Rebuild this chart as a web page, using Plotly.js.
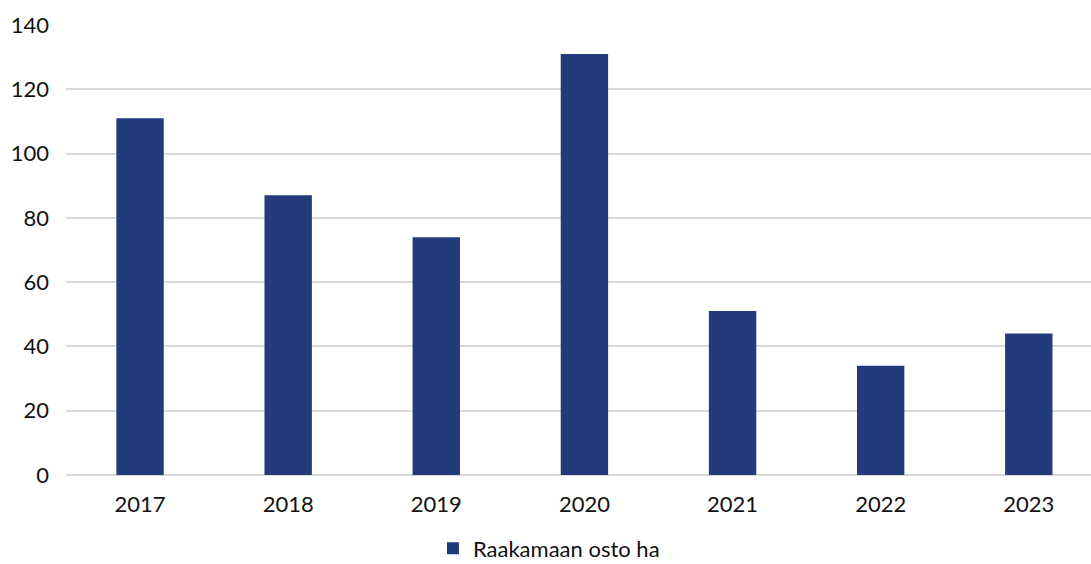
<!DOCTYPE html>
<html><head><meta charset="utf-8">
<script src="https://cdn.plot.ly/plotly-3.0.1.min.js"></script>
<style>html,body{margin:0;padding:0;background:#fff}#chart{width:1091px;height:564px}</style>
</head><body><div id="chart"></div>
<script>
const years = ["2017","2018","2019","2020","2021","2022","2023"];
const values = [111, 87, 74, 131, 51, 34, 44];
const seriesName = "Raakamaan osto ha";
const yTicks = [0,20,40,60,80,100,120,140];

Plotly.newPlot("chart", [{
  type: "bar", x: years, y: values, name: seriesName,
  marker: {color: "#223B7B"}, showlegend: true
}], {
  width: 1091, height: 564,
  margin: {l: 66, r: 0, t: 25, b: 89, autoexpand: false},
  bargap: 0.68,
  font: {family: "Lato, 'Open Sans', sans-serif", size: 22, color: "#111"},
  paper_bgcolor: "#fff", plot_bgcolor: "#fff",
  xaxis: {type: "category", range: [-0.5, 6.42], showgrid: false, showline: false, ticks: "", ticklen: 0,
          ticklabelstandoff: 14, tickfont: {size: 22}, fixedrange: true},
  yaxis: {range: [0, 140], tickvals: yTicks, showgrid: true, gridcolor: "#d9d9d9", gridwidth: 2,
          zeroline: true, zerolinecolor: "#d9d9d9", zerolinewidth: 2, ticks: "", ticklabelstandoff: 16, tickfont: {size: 22}, fixedrange: true},
  legend: {orientation: "h", x: 0.358, xanchor: "left", y: -0.21, yanchor: "bottom", itemwidth: 30, font: {size: 22}},
  showlegend: true
}, {displayModeBar: false, staticPlot: true});
</script></body></html>
